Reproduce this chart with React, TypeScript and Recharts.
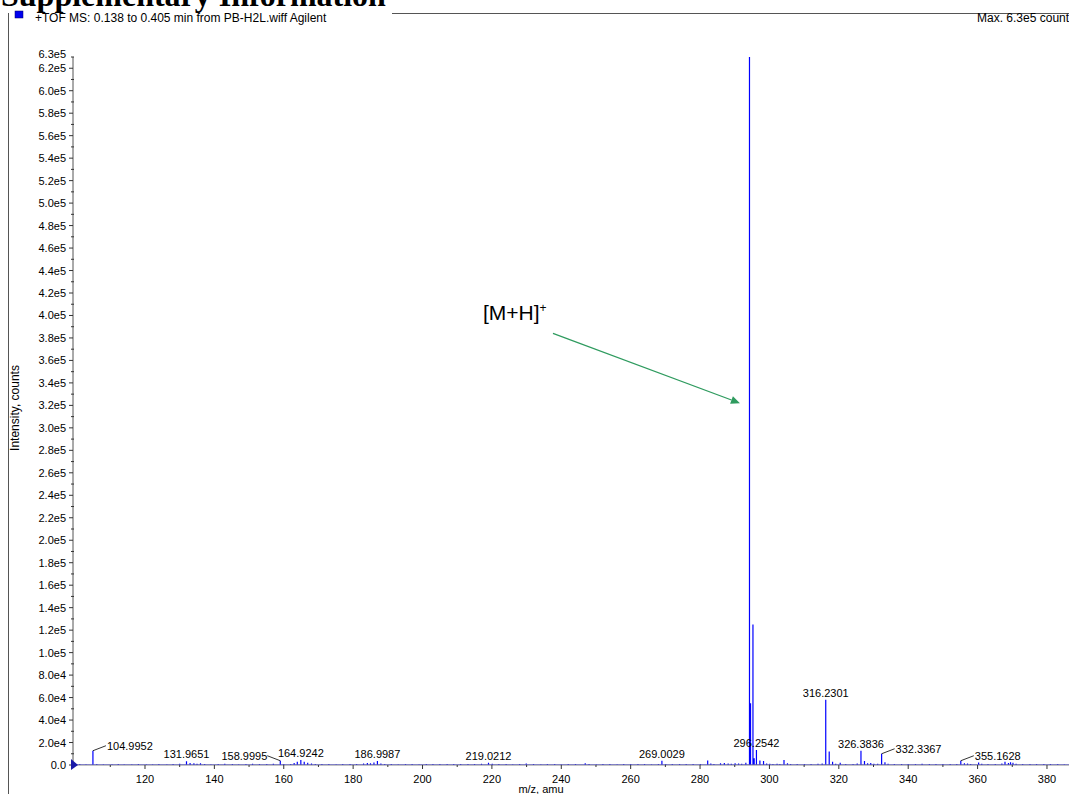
import React from 'react';
import { ComposedChart, Line, Scatter, XAxis, YAxis, ReferenceLine } from 'recharts';

// stick spectrum: m/z of each stick and its intensity in counts
const peakMz = [
  101.2, 103.0, 104.9952, 106.1, 108.0, 110.5, 112.3, 114.0, 116.2, 118.1,
  120.4, 122.2, 124.0, 126.3, 128.1, 130.0, 131.9651, 133.0, 134.1, 135.0,
  136.0, 137.2, 139.0, 141.1, 143.0, 145.2, 147.0, 149.1, 151.0, 153.0,
  155.1, 157.0, 158.9995, 160.0, 162.0, 163.0, 163.9, 164.9242, 165.9, 166.9,
  168.0, 169.1, 171.0, 173.0, 175.1, 177.0, 179.1, 181.0, 183.0, 184.1,
  185.0, 186.0, 186.9987, 188.0, 189.1, 191.0, 193.0, 195.1, 197.0, 199.0,
  201.1, 203.0, 205.0, 207.1, 209.0, 211.0, 213.1, 215.0, 217.0, 219.0212,
  220.1, 222.0, 224.1, 226.0, 228.0, 229.9, 232.0, 234.1, 236.0, 238.1,
  240.0, 242.0, 244.1, 246.9, 248.0, 250.1, 252.0, 254.0, 256.1, 258.0,
  260.0, 262.1, 264.0, 266.0, 268.0, 269.0029, 270.1, 272.0, 274.1, 276.0,
  278.0, 280.1, 282.2, 283.1, 284.0, 285.9, 287.0, 288.1, 289.0, 290.1,
  291.1, 292.0, 293.2, 294.2488, 294.55, 295.25, 295.6, 296.2542, 297.25, 298.3,
  299.2, 300.1, 301.0, 302.2, 303.0, 304.2, 305.2, 306.1, 308.0, 310.1,
  312.0, 314.0, 315.2, 316.2301, 317.23, 318.2, 319.1, 320.4, 322.0, 324.1,
  325.3, 326.3836, 327.4, 328.3, 329.2, 330.1, 331.2, 332.3367, 333.3, 334.2,
  336.0, 338.1, 340.0, 342.1, 344.0, 346.1, 348.0, 350.0, 352.1, 354.0,
  355.1628, 356.2, 357.1, 358.0, 360.3, 361.2, 363.0, 365.1, 367.0, 367.9,
  368.9, 369.5, 370.2, 371.1, 373.0, 375.1, 377.0, 379.1, 381.0, 383.1,
  385.0,
];
const peakCounts = [
  800, 600, 12700, 900, 700, 600, 800, 700, 600, 900,
  700, 600, 800, 700, 900, 1200, 3300, 1800, 1500, 1200,
  1600, 900, 700, 800, 1200, 900, 700, 800, 1100, 900,
  800, 1100, 3800, 900, 1000, 1800, 2800, 4500, 3000, 2000,
  1300, 1000, 900, 800, 700, 900, 800, 1000, 1400, 1800,
  1600, 2200, 3600, 1300, 900, 800, 700, 800, 900, 700,
  800, 900, 1000, 800, 900, 1000, 800, 900, 1100, 2000,
  1100, 900, 800, 700, 900, 1300, 800, 700, 900, 800,
  700, 900, 800, 1600, 800, 700, 900, 800, 700, 900,
  800, 900, 800, 700, 1000, 3800, 1000, 800, 900, 800,
  900, 1000, 4000, 1300, 900, 1500, 1700, 1400, 1200, 1600,
  1300, 1100, 2000, 630000, 55000, 125000, 6000, 13300, 4000, 3500,
  1400, 1100, 900, 1200, 1000, 4500, 1600, 1000, 900, 800,
  900, 1100, 1300, 58000, 12000, 3000, 1200, 2000, 900, 1000,
  1300, 12700, 3500, 1500, 1800, 1200, 1100, 10000, 2500, 1200,
  1000, 900, 1000, 800, 1100, 900, 800, 1000, 900, 1000,
  3800, 1500, 1300, 1000, 2200, 1100, 900, 1000, 1300, 3000,
  1800, 2500, 2000, 1200, 900, 800, 900, 800, 900, 800,
  700,
];

const labelledMz = [
  104.9952, 131.9651, 158.9995, 164.9242, 186.9987, 219.0212, 269.0029,
  294.2488, 296.2542, 316.2301, 326.3836, 332.3367, 355.1628,
];
const leaderRight = ['104.9952', '332.3367', '355.1628'];
const leaderLeft = ['158.9995'];

const xMajorTicks = [120, 140, 160, 180, 200, 220, 240, 260, 280, 300, 320, 340, 360, 380];
const xMinorTicks = [110, 130, 150, 170, 190, 210, 230, 250, 270, 290, 310, 330, 350, 370];
const X_MIN = 99.25;
const X_MAX = 386.35;
const Y_MAX = 630000;
const yTickValues = Array.from({ length: 63 }, (_, i) => i * 10000).concat([Y_MAX]);

// [M+H]+ arrow, in data units (start -> tip)
const arrowStart = { x: 237.6, y: 384000 };
const arrowEnd = { x: 291.5, y: 322000 };

const W = 1069;
const H = 794;
const BLUE = '#0000ff';
const SANS = '"Liberation Sans", Arial, sans-serif';

const stickData = [{ mz: X_MIN, counts: 0 }]
  .concat(
    peakMz.flatMap((mz, i) => [
      { mz, counts: 0 },
      { mz, counts: peakCounts[i] },
      { mz, counts: 0 },
    ])
  )
  .concat([{ mz: X_MAX, counts: 0 }]);

const labelData = labelledMz.map((mz) => ({ mz, counts: peakCounts[peakMz.indexOf(mz)] }));

const fmtY = (v: number) => (v === 0 ? '0.0' : v.toExponential(1).replace('e+', 'e'));

function YTick(props: any) {
  const { x, y, payload } = props;
  const v = payload.value;
  const major = v % 20000 === 0 && v !== Y_MAX;
  return (
    <g>
      {major ? (
        <line x1={x - 4} x2={x} y1={y} y2={y} stroke="#333" />
      ) : (
        <line x1={x - 2} x2={x + 1} y1={y} y2={y} stroke="#333" />
      )}
      {(major || v === Y_MAX) && (
        <text x={x - 7} y={v === Y_MAX ? y + 1 : y + 4} textAnchor="end" fontSize={11} fontFamily={SANS} fill="#000">
          {fmtY(v)}
        </text>
      )}
      {v === 0 && <polygon points={`${x - 2},${y - 6} ${x + 5},${y} ${x - 2},${y + 5}`} fill="#1a1aa8" />}
    </g>
  );
}

function XTick(props: any) {
  const { x, y, payload } = props;
  const v = payload.value;
  const major = xMajorTicks.includes(v);
  return (
    <g>
      <line x1={x} x2={x} y1={y} y2={y + (major ? 4 : 2)} stroke="#333" />
      {major && (
        <text x={x} y={y + 18} textAnchor="middle" fontSize={11} fontFamily={SANS} fill="#000">
          {v}
        </text>
      )}
    </g>
  );
}

function PeakLabel(props: any) {
  const { cx, cy, payload } = props;
  if (cx == null || cy == null) return <g />;
  const text = payload.mz.toFixed(4);
  const common = { fontSize: 11, fontFamily: SANS, fill: '#000' };
  if (leaderRight.includes(text)) {
    return (
      <g>
        <line x1={cx} y1={cy} x2={cx + 13} y2={cy - 5} stroke="#000" strokeWidth={0.8} />
        <text x={cx + 14} y={cy - 1} {...common}>{text}</text>
      </g>
    );
  }
  if (leaderLeft.includes(text)) {
    return (
      <g>
        <line x1={cx} y1={cy} x2={cx - 13} y2={cy - 5} stroke="#000" strokeWidth={0.8} />
        <text x={cx - 13} y={cy - 1} textAnchor="end" {...common}>{text}</text>
      </g>
    );
  }
  return (
    <text x={cx} y={cy - 3} textAnchor="middle" {...common}>{text}</text>
  );
}

function Arrow(props: any) {
  const { x1, y1, x2, y2 } = props;
  const a = Math.atan2(y2 - y1, x2 - x1);
  const L = 9;
  const s = 4;
  const bx = x2 - L * Math.cos(a);
  const by = y2 - L * Math.sin(a);
  const px = -Math.sin(a) * s;
  const py = Math.cos(a) * s;
  return (
    <g>
      <line x1={x1} y1={y1} x2={bx} y2={by} stroke="#2f9b5f" strokeWidth={1.3} />
      <polygon points={`${x2},${y2} ${bx + px},${by + py} ${bx - px},${by - py}`} fill="#2f9b5f" />
      <text x={x1 - 70} y={y1 - 13} fontSize={21} fontFamily={SANS} fill="#000">
        [M+H]
        <tspan dy={-8} fontSize={12}>+</tspan>
      </text>
    </g>
  );
}

export default function App() {
  return (
    <div style={{ position: 'relative', width: W, height: H, overflow: 'hidden', background: '#fff' }}>
      <style>{'html,body{margin:0;padding:0;overflow:hidden;background:#fff}'}</style>
      <svg width={W} height={H} style={{ position: 'absolute', left: 0, top: 0 }}>
        <line x1={392} x2={W} y1={13.5} y2={13.5} stroke="#555" />
        <line x1={8.5} x2={8.5} y1={13} y2={H} stroke="#555" />
        <text x={1} y={6} fontSize={32} fontWeight="bold" fontFamily='"Liberation Serif", "Times New Roman", serif' fill="#000">
          Supplementary Information
        </text>
        <rect x={15} y={11} width={8} height={7} fill="#0000ee" stroke="#000066" strokeWidth={0.5} />
        <text x={35} y={21.5} fontSize={12} fontFamily={SANS} fill="#000">
          +TOF MS: 0.138 to 0.405 min from PB-H2L.wiff Agilent
        </text>
        <text x={977} y={21.5} fontSize={12} fontFamily={SANS} fill="#000">
          Max. 6.3e5 count
        </text>
        <text x={541} y={793} textAnchor="middle" fontSize={11} fontFamily={SANS} fill="#000">
          m/z, amu
        </text>
        <text transform="translate(19,408) rotate(-90)" textAnchor="middle" fontSize={12} fontFamily={SANS} fill="#000">
          Intensity, counts
        </text>
      </svg>
      <div style={{ position: 'absolute', left: 0, top: 0 }}>
        <ComposedChart width={W} height={H} margin={{ top: 57, right: 0, bottom: 0, left: 0 }}>
          <XAxis
            type="number"
            dataKey="mz"
            domain={[X_MIN, X_MAX]}
            ticks={[...xMajorTicks, ...xMinorTicks].sort((a, b) => a - b)}
            interval={0}
            allowDataOverflow
            height={29}
            tick={<XTick />}
            tickLine={false}
            tickSize={0}
            tickMargin={0}
            axisLine={{ stroke: '#888' }}
          />
          <YAxis
            type="number"
            domain={[0, Y_MAX]}
            ticks={yTickValues}
            interval={0}
            allowDataOverflow
            width={73}
            tick={<YTick />}
            tickLine={false}
            tickSize={0}
            tickMargin={0}
            axisLine={{ stroke: '#555' }}
          />
          <Line
            data={stickData}
            dataKey="counts"
            type="linear"
            stroke={BLUE}
            strokeWidth={1.2}
            dot={false}
            activeDot={false}
            isAnimationActive={false}
          />
          <Scatter data={labelData} dataKey="counts" shape={(p: any) => <PeakLabel {...p} />} isAnimationActive={false} />
          <ReferenceLine segment={[arrowStart, arrowEnd]} shape={(p: any) => <Arrow {...p} />} />
        </ComposedChart>
      </div>
    </div>
  );
}
